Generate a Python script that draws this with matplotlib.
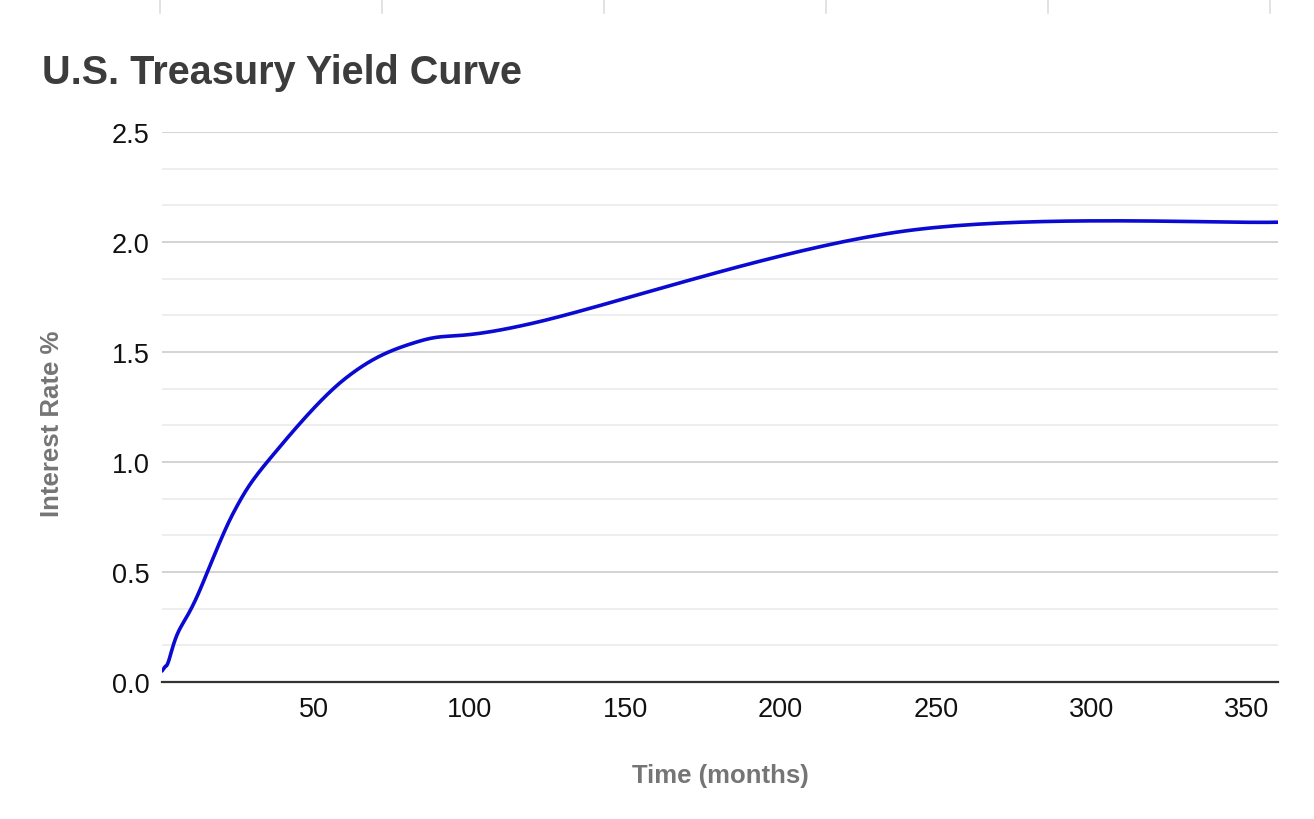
import numpy as np
import matplotlib
matplotlib.use('Agg')
import matplotlib.pyplot as plt
from matplotlib.lines import Line2D
from matplotlib.ticker import MultipleLocator

# Treasury maturities (months) and yields (%)
months = [1, 2, 3, 6, 12, 24, 36, 60, 84, 120, 240, 360]
yields = [0.05, 0.07, 0.09, 0.22, 0.38, 0.77, 1.02, 1.38, 1.55, 1.63, 2.05, 2.09]

y_ticks = [0.0, 0.5, 1.0, 1.5, 2.0, 2.5]
x_ticks = [50, 100, 150, 200, 250, 300, 350]


# smooth line through the points like the sheets "function" curve
def smooth(xs, ys, k=1/6, n=40):
    pts = np.column_stack([xs, ys]).astype(float)
    out = [pts[0]]
    for i in range(len(pts) - 1):
        p0, p1 = pts[i], pts[i + 1]
        prev = pts[i - 1] if i > 0 else p0
        nxt = pts[i + 2] if i + 2 < len(pts) else p1
        c1 = p0 + (p1 - prev) * k
        c2 = p1 - (nxt - p0) * k
        t = np.linspace(0, 1, n)[1:, None]
        seg = ((1 - t) ** 3 * p0 + 3 * (1 - t) ** 2 * t * c1
               + 3 * (1 - t) * t ** 2 * c2 + t ** 3 * p1)
        out.extend(seg)
    out = np.array(out)
    return out[:, 0], out[:, 1]


fig = plt.figure(figsize=(13.14, 8.2), dpi=100)
ax = fig.add_axes([162 / 1314, 1 - 683 / 820, (1278 - 162) / 1314, (683 - 133) / 820])

sx, sy = smooth(months, yields)
ax.plot(sx, sy, color='#0a0ad2', linewidth=2.6, solid_capstyle='round', zorder=3)

ax.set_xlim(1, 360)
ax.set_ylim(0, 2.5)
ax.set_yticks(y_ticks)
ax.set_yticklabels([f'{v:.1f}' for v in y_ticks])
ax.set_xticks(x_ticks)
ax.yaxis.set_minor_locator(MultipleLocator(0.5 / 3))

ax.grid(axis='y', which='major', color='#cccccc', linewidth=1.2)
ax.grid(axis='y', which='minor', color='#ebebeb', linewidth=1.2)
ax.set_axisbelow(True)
for s in ['top', 'right', 'left']:
    ax.spines[s].set_visible(False)
ax.spines['bottom'].set_color('#333333')
ax.spines['bottom'].set_linewidth(1.6)
ax.spines['bottom'].set_zorder(4)

ax.tick_params(axis='both', which='both', length=0, labelsize=19.5, labelcolor='#111111')
ax.tick_params(axis='y', pad=9)
ax.tick_params(axis='x', pad=10)
for lbl in ax.get_xticklabels() + ax.get_yticklabels():
    lbl.set_family('Liberation Sans')

# axis titles
fig.text(52 / 1314, 1 - 424 / 820, 'Interest Rate %', fontsize=18.5, fontweight='bold',
         color='#757575', family='Liberation Sans', rotation=90, ha='center', va='center')
fig.text(720 / 1314, 1 - 776 / 820, 'Time (months)', fontsize=18.5, fontweight='bold',
         color='#757575', family='Liberation Sans', ha='center', va='center')

fig.text(42 / 1314, 1 - 73 / 820, 'U.S. Treasury Yield Curve', fontsize=28.5, fontweight='bold',
         color='#3c3c3c', family='Liberation Sans', va='center', ha='left')

# bits of the cell borders above the chart
for px in [160, 382, 604, 826, 1048, 1270]:
    fig.add_artist(Line2D([px / 1314, px / 1314], [1, 1 - 14 / 820],
                          transform=fig.transFigure, color='#dddddd', linewidth=1.2))

fig.savefig('out.png', dpi=100, facecolor='white')
